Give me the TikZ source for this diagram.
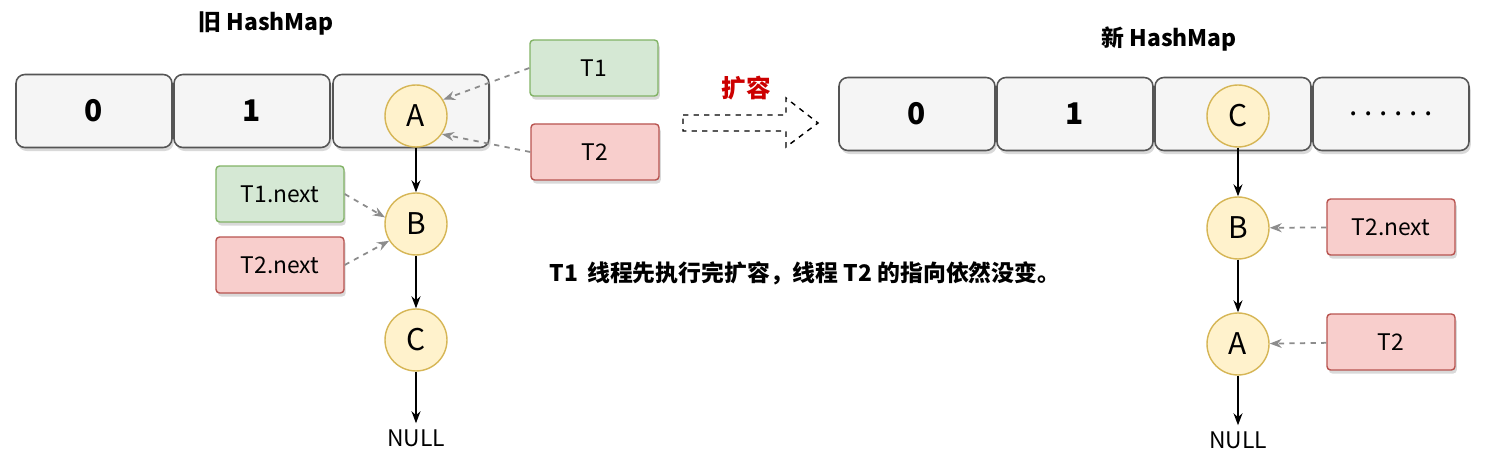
\documentclass[tikz,border=0pt]{standalone}
\usepackage{fontspec}
\setmainfont{Noto Sans CJK SC}
\usetikzlibrary{arrows.meta,positioning,calc,shadows}
\definecolor{cellfill}{RGB}{245,245,245}
\definecolor{celldraw}{RGB}{85,85,85}
\definecolor{entryfill}{RGB}{255,242,204}
\definecolor{entrydraw}{RGB}{214,182,86}
\definecolor{okfill}{RGB}{213,232,212}
\definecolor{okdraw}{RGB}{130,179,102}
\definecolor{badfill}{RGB}{248,206,204}
\definecolor{baddraw}{RGB}{184,84,80}
\definecolor{expandred}{RGB}{204,0,0}
\definecolor{ptrgray}{RGB}{140,140,140}
\tikzset{
  cell/.style={draw=celldraw, fill=cellfill, line width=0.9pt, rounded corners=5pt,
    minimum width=3.12cm, minimum height=1.46cm, inner sep=0pt,
    font=\fontsize{17}{17}\selectfont\bfseries,
    drop shadow={opacity=0.3, shadow xshift=1pt, shadow yshift=-2pt}},
  entry/.style={circle, draw=entrydraw, fill=entryfill, line width=0.8pt,
    minimum size=1.24cm, inner sep=0pt, font=\fontsize{17}{17}\selectfont},
  ptrbox/.style={rounded corners=2pt, line width=0.8pt, minimum width=2.56cm,
    minimum height=1.12cm, inner sep=0pt, font=\fontsize{13}{13}\selectfont,
    drop shadow={opacity=0.3, shadow xshift=1pt, shadow yshift=-2pt}},
  okbox/.style={ptrbox, draw=okdraw, fill=okfill},
  badbox/.style={ptrbox, draw=baddraw, fill=badfill},
  title/.style={font=\fontsize{13}{13}\selectfont\bfseries},
  nextln/.style={-{Stealth[length=2.4mm]}, line width=0.9pt},
  ptrln/.style={-{Stealth[length=2.4mm]}, dashed, line width=1pt, ptrgray},
}
\newcommand{\celldots}{\mdseries.\hspace{0.22em}.\hspace{0.22em}.\hspace{0.22em}.\hspace{0.22em}.\hspace{0.22em}.}

\begin{document}
\begin{tikzpicture}[x=0.02cm, y=-0.02cm]
    \useasboundingbox (0,0) rectangle (1485,465);
    % old HashMap
    \node[title] (oldtitle) at (266,23) {旧 HashMap};
    \foreach \i/\x/\t in {0/94/0, 1/252/1, 2/411/} { \node[cell] (old\i) at (\x,111) {\t}; }
    \node[entry] (a) at (416,116) {A};
    \node[entry] (b) at (416,224) {B};
    \node[entry] (c) at (416,340) {C};
    \node[font=\fontsize{13}{13}\selectfont] (null1) at (416,438) {NULL};
    \draw[nextln] (a) -- (b);
    \draw[nextln] (b) -- (c);
    \draw[nextln] (c) -- (null1);
    \node[okbox] (t1) at (594,68) {T1};
    \node[badbox] (t2) at (595,152) {T2};
    \node[okbox] (t1n) at (280,194) {T1.next};
    \node[badbox] (t2n) at (280,265) {T2.next};
    \draw[ptrln] (t1.west) -- (a.31);
    \draw[ptrln] (t2.west) -- (a.-35);
    \draw[ptrln] (t1n.east) -- (b.168);
    \draw[ptrln] (t2n.east) -- (b.212);
    % resize
    \node[font=\fontsize{14}{14}\selectfont\bfseries, expandred] (expandlbl) at (746,88) {扩容};
    \draw[dashed, line width=0.8pt] (683,115) -- (786,115) -- (786,98) -- (818,123)
      -- (786,147) -- (786,131) -- (683,131) -- cycle;
    % new HashMap
    \node[title] (newtitle) at (1169,39) {新 HashMap};
    \foreach \i/\x/\t in {0/917/0, 1/1075/1, 2/1233/, 3/1391/\celldots} { \node[cell] (new\i) at (\x,114) {\t}; }
    \node[entry] (nc) at (1238,116) {C};
    \node[entry] (nb) at (1238,228) {B};
    \node[entry] (na) at (1238,344) {A};
    \node[font=\fontsize{13}{13}\selectfont] (null2) at (1238,440) {NULL};
    \draw[nextln] (nc) -- (nb);
    \draw[nextln] (nb) -- (na);
    \draw[nextln] (na) -- (null2);
    \node[badbox] (nt2n) at (1391,227) {T2.next};
    \node[badbox] (nt2) at (1391,342) {T2};
    \draw[ptrln] (nt2n) -- (nb);
    \draw[ptrln] (nt2) -- (na);
    % caption
    \node[font=\fontsize{13}{13}\selectfont\bfseries] (caption) at (805,273) {T1\,\ 线程先执行完扩容，线程\ T2\ 的指向依然没变。};
\end{tikzpicture}
\end{document}
